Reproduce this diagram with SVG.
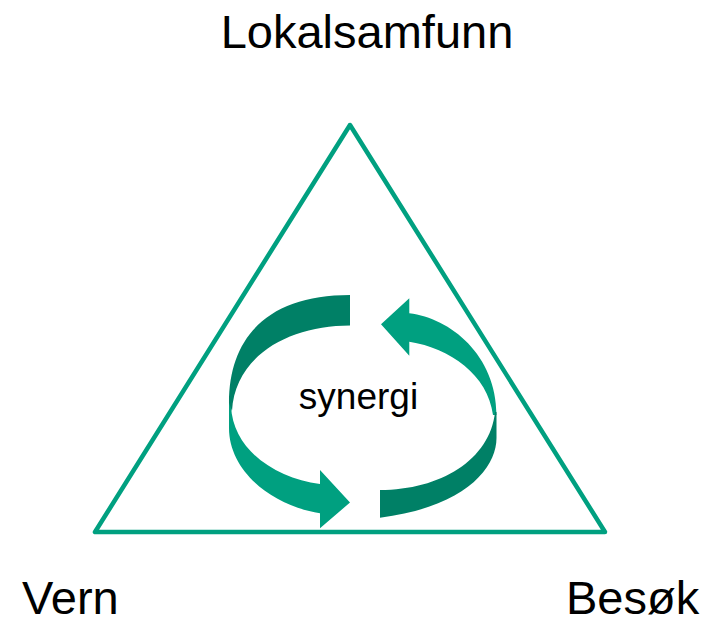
<svg xmlns="http://www.w3.org/2000/svg" width="712" height="620" viewBox="0 0 712 620">
  <style>
    .lbl { font-family: "Liberation Sans", Arial, sans-serif; fill: #000; }
    .big { font-size: 47px; }
    .mid { font-size: 37px; }
    .dark { fill: #008066; }
    .light { fill: #00A080; }
    .tri { fill: none; stroke: #00A080; stroke-width: 4.5; stroke-linejoin: round; }
  </style>
  <rect width="712" height="620" fill="#ffffff"/>
  <g id="triangle">
    <polygon class="tri" points="350,125 95,532 605,532"/>
  </g>
  <g id="node-lokalsamfunn">
    <text class="lbl big" x="367" y="48" text-anchor="middle">Lokalsamfunn</text>
  </g>
  <g id="node-vern">
    <text class="lbl big" x="22" y="614">Vern</text>
  </g>
  <g id="node-besok">
    <text class="lbl big" x="566" y="614">Besøk</text>
  </g>
  <g id="node-synergi">
    <text class="lbl mid" x="358.5" y="409" text-anchor="middle">synergi</text>
  </g>
  <g id="connectors">
    <path class="light" d="M229,395 L229,428 C229,470 270,505 320,513.3 L320,528.3 L350,502.5 L320,470 L320,484 C275,478 233,450 231,406 Z"/>
    <path class="dark" d="M350,295 C270,295 229,335 229,403 L232,411 C235,355 290,325.5 350,325.5 Z"/>
    <path class="light" d="M381,324.3 L409.3,298.3 L409.3,313.3 C450,318 496.5,355 496.5,415 L493,415 C488,375 450,348 409.3,341.7 L409.3,355.7 Z"/>
    <path class="dark" d="M380,490 C440,490 490,460 495,412 L496.5,412 L496.5,438 C496.5,468 465,507 380,517.7 Z"/>
  </g>
</svg>
